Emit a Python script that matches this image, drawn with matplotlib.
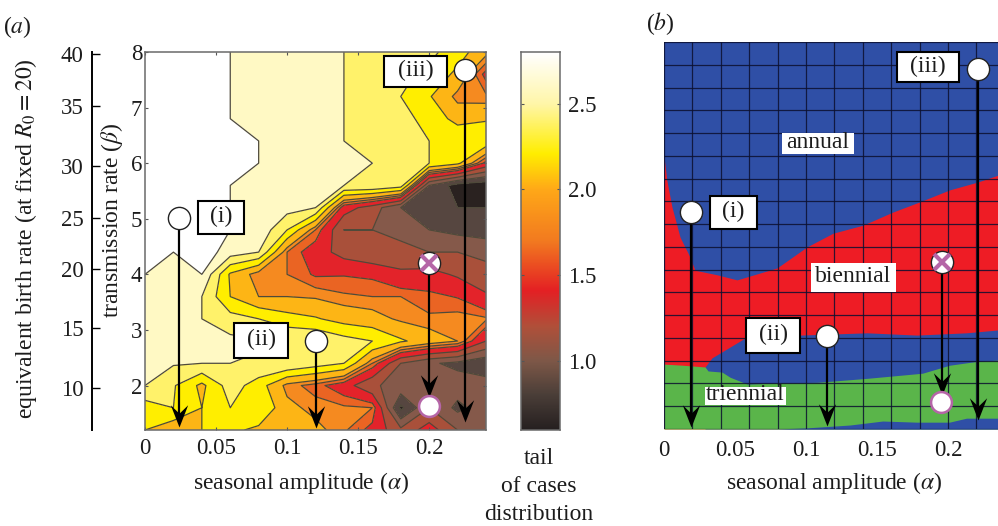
#!/usr/bin/env python3
import matplotlib

matplotlib.use("Agg")
import matplotlib.pyplot as plt
import numpy as np
from matplotlib.colors import LinearSegmentedColormap, ListedColormap
from matplotlib.patches import Rectangle
from matplotlib.path import Path

W, H = 998, 526

# panel a: tail of the cases distribution on the alpha / beta grid
ALPHA_GRID = [0, 0.02, 0.04, 0.06, 0.08, 0.10, 0.12, 0.14, 0.16, 0.18, 0.20, 0.22, 0.24]
BETA_GRID = [8.0, 7.6, 7.2, 6.8, 6.4, 6.0, 5.6, 5.2, 4.8, 4.4, 4.0, 3.6, 3.2, 2.8, 2.4, 2.0, 1.6, 1.2]
TAIL = [
    [2.7, 2.7, 2.7, 2.6, 2.5, 2.5, 2.5, 2.4, 2.3, 2.3, 2.25, 2.1, 1.85],
    [2.7, 2.7, 2.7, 2.6, 2.5, 2.5, 2.5, 2.4, 2.3, 2.25, 2.15, 1.95, 1.55],
    [2.7, 2.7, 2.7, 2.6, 2.5, 2.5, 2.5, 2.4, 2.3, 2.2, 2.02, 1.75, 1.72],
    [2.7, 2.7, 2.7, 2.6, 2.5, 2.5, 2.5, 2.4, 2.3, 2.25, 2.15, 1.92, 1.98],
    [2.7, 2.7, 2.7, 2.7, 2.6, 2.5, 2.5, 2.4, 2.35, 2.3, 2.2, 2.2, 2.15],
    [2.7, 2.7, 2.7, 2.7, 2.6, 2.5, 2.5, 2.45, 2.4, 2.3, 2.2, 2.05, 1.55],
    [2.7, 2.7, 2.7, 2.6, 2.5, 2.5, 2.5, 2.4, 2.4, 2.3, 1.0, 0.7, 0.65],
    [2.7, 2.7, 2.7, 2.6, 2.5, 2.48, 2.4, 1.5, 1.3, 1.0, 0.9, 0.8, 0.8],
    [2.7, 2.7, 2.7, 2.6, 2.55, 2.2, 1.7, 1.2, 1.2, 1.1, 1.0, 0.94, 0.92],
    [2.7, 2.6, 2.72, 2.5, 2.4, 1.7, 1.5, 1.32, 1.22, 1.3, 1.2, 1.2, 1.12],
    [2.6, 2.5, 2.6, 1.97, 1.72, 1.7, 1.58, 1.59, 1.57, 1.43, 1.47, 1.37, 1.31],
    [2.55, 2.5, 2.4, 2.0, 1.8, 1.8, 1.78, 1.72, 1.7, 1.7, 1.64, 1.59, 1.42],
    [2.55, 2.5, 2.4, 2.28, 2.2, 2.08, 2.02, 1.92, 1.87, 1.77, 1.72, 1.75, 1.72],
    [2.55, 2.5, 2.47, 2.45, 2.42, 2.4, 2.4, 2.28, 2.2, 2.03, 1.9, 1.8, 1.4],
    [2.45, 2.42, 2.4, 2.4, 2.38, 2.4, 2.3, 2.2, 1.7, 1.2, 1.03, 0.95, 0.85],
    [2.4, 2.22, 1.95, 2.3, 2.1, 1.75, 1.65, 1.5, 1.22, 1.15, 1.1, 1.1, 1.1],
    [2.1, 2.2, 2.0, 2.2, 2.2, 1.85, 1.75, 1.72, 1.7, 0.75, 1.2, 0.95, 1.1],
    [2.0, 1.85, 2.0, 2.05, 1.95, 1.9, 1.85, 1.72, 1.55, 1.25, 1.5, 1.2, 1.15],
]
LEVELS = [0.6, 0.8, 1.0, 1.2, 1.4, 1.6, 1.7, 1.8, 2.0, 2.2, 2.4, 2.6, 2.8]
BAND_COLORS = [
    "#2a2220", "#564640", "#85594a", "#a9503a", "#e3232a", "#ea6423",
    "#f58a20", "#fdb515", "#ffee00", "#fff26a", "#fff9c4", "#ffffff",
]
CBAR_VALUES = [0.6, 0.8, 1.0, 1.2, 1.41, 1.7, 2.0, 2.21, 2.5, 2.8]
CBAR_COLORS = [
    "#262020", "#4a3e38", "#7e5848", "#b0503a", "#e42024",
    "#f27a20", "#ffa818", "#ffee00", "#fff6a8", "#ffffff",
]

ALPHA_TICKS = [0, 0.05, 0.1, 0.15, 0.2]
ALPHA_LABELS = ["0", "0.05", "0.1", "0.15", "0.2"]
BETA_TICKS = [2, 3, 4, 5, 6, 7, 8]
BIRTH_LABELS = ["10", "15", "20", "25", "30", "35", "40"]
BIRTH_TICKS = [1.95, 3.03, 4.10, 5.02, 5.95, 7.03, 7.96]
CBAR_TICKS = [1.0, 1.5, 2.0, 2.5]

# panel b: regime boundaries
ANNUAL_X = [0, 0.002, 0.0056, 0.0113, 0.0183, 0.0218, 0.0373, 0.0514, 0.0796, 0.1007, 0.119, 0.14, 0.161, 0.18, 0.201, 0.221, 0.2352]
ANNUAL_Y = [5.98, 5.57, 5.10, 4.57, 4.22, 3.99, 3.91, 3.82, 4.03, 4.40, 4.64, 4.78, 5.01, 5.19, 5.40, 5.54, 5.66]
BIENNIAL_X = [0.0289, 0.0338, 0.0465, 0.0585, 0.0958, 0.143, 0.178, 0.213, 0.2352]
BIENNIAL_Y = [2.29, 2.45, 2.64, 2.82, 2.85, 2.89, 2.85, 2.89, 2.94]
UPPER_TRI_X = [0, 0.0134, 0.0289, 0.031, 0.0408, 0.0465, 0.0585, 0.0838, 0.108, 0.143, 0.182, 0.201, 0.221, 0.2352]
UPPER_TRI_Y = [2.34, 2.32, 2.29, 2.22, 2.20, 2.11, 1.99, 2.01, 2.02, 2.09, 2.18, 2.32, 2.39, 2.41]
LOWER_TRI_X = [0.0796, 0.1007, 0.131, 0.154, 0.178, 0.201, 0.213, 0.2352]
LOWER_TRI_Y = [1.20, 1.22, 1.27, 1.34, 1.32, 1.32, 1.39, 1.39]

# trajectories: (alpha, beta start, beta tip)
A_ARROWS = [(0.024, 5.02, 1.25), (0.12, 2.8, 1.23), (0.2254, 7.68, 1.35), (0.2, 4.21, 1.8)]
B_ARROWS = [(0.019, 5.01, 1.23), (0.1148, 2.83, 1.25), (0.221, 7.53, 1.36), (0.1958, 4.13, 1.8)]
A_TARGET = (0.2, 1.63)
B_TARGET = (0.195, 1.67)

plt.rcParams.update(
    {
        "font.family": ["Liberation Serif", "DejaVu Serif"],
        "mathtext.fontset": "stix",
        "font.size": 17,
        "xtick.labelsize": 16.5,
        "ytick.labelsize": 16.5,
    }
)

FRAME = "#6a6a6a"
BLUE = "#2f4fa6"
RED = "#ee1c25"
GREEN = "#5ab54a"
PINK = "#b565a7"
INK = "#1c1c1c"


def add_axes(fig, left, top, right, bottom):
    return fig.add_axes([left / W, 1 - bottom / H, (right - left) / W, (bottom - top) / H])


def fig_text(fig, x, y, s, **kwargs):
    kwargs.setdefault("ha", "center")
    kwargs.setdefault("va", "center")
    kwargs.setdefault("color", INK)
    fig.text(x / W, 1 - y / H, s, **kwargs)


def box_label(fig, left, top, right, bottom, s, edge="black"):
    fig.add_artist(
        Rectangle(
            (left / W, 1 - bottom / H), (right - left) / W, (bottom - top) / H,
            transform=fig.transFigure, facecolor="white", edgecolor=edge, linewidth=1.5, zorder=9,
        )
    )
    fig_text(fig, (left + right) / 2, (top + bottom) / 2 - 1, s, zorder=10)


def draw_arrows(ax, arrows, target):
    head = Path([(0, 0), (-0.39, 1), (0, 0.62), (0.39, 1), (0, 0)], closed=True)
    for alpha, start, tip in arrows:
        ax.plot([alpha, alpha], [start, tip + 0.15], color="black", lw=1.6, zorder=5)
        ax.plot(alpha, tip, marker=head, ms=32, color="black", mew=0, zorder=6, clip_on=False)
        ax.plot(alpha, start, "o", ms=16, mfc="white", mec="#222222", mew=1.0, zorder=7, clip_on=False)
    # crossed start point and its attractor
    ax.plot(arrows[3][0], arrows[3][1], "x", ms=11, mew=3, color=PINK, zorder=8)
    ax.plot(target[0], target[1], "o", ms=15, mfc="white", mec=PINK, mew=1.8, zorder=7)


def panel_a(fig):
    ax = add_axes(fig, 145, 52, 486, 430)
    x, y = np.meshgrid(ALPHA_GRID, BETA_GRID)
    z = np.array(TAIL)
    ax.contourf(x, y, z, levels=LEVELS, cmap=ListedColormap(BAND_COLORS), vmin=LEVELS[0], vmax=LEVELS[-1])
    ax.contour(x, y, z, levels=LEVELS[1:-1], colors="#4f4a3a", linewidths=0.9)
    ax.set_xlim(0, 0.24)
    ax.set_ylim(1.2, 8)
    ax.set_xticks(ALPHA_TICKS, ALPHA_LABELS)
    ax.set_yticks(BETA_TICKS)
    ax.tick_params(direction="in", top=True, right=True, length=2.5, width=0.8, color="#555555", labelcolor=INK)
    ax.tick_params(axis="x", pad=6)
    ax.tick_params(axis="y", pad=2)
    for spine in ax.spines.values():
        spine.set_color(FRAME)
        spine.set_linewidth(1.1)
    draw_arrows(ax, A_ARROWS, A_TARGET)

    # equivalent birth rate axis, shares the beta scale
    side = add_axes(fig, 92, 52, 93, 430)
    side.set_ylim(1.2, 8)
    side.set_xticks([])
    side.set_yticks(BIRTH_TICKS, BIRTH_LABELS)
    side.tick_params(axis="y", direction="in", length=6, width=1.0, pad=6, labelcolor=INK)
    for name in ["top", "right", "bottom"]:
        side.spines[name].set_visible(False)
    side.spines["left"].set_linewidth(1.4)
    side.patch.set_alpha(0)

    box_label(fig, 198, 201, 244, 234, "(i)")
    box_label(fig, 234, 323, 288, 358, "(ii)")
    box_label(fig, 384, 56, 447, 87, "(iii)")


def colorbar(fig):
    ax = add_axes(fig, 521, 52, 560, 430)
    cmap = LinearSegmentedColormap.from_list(
        "tail",
        [((v - CBAR_VALUES[0]) / (CBAR_VALUES[-1] - CBAR_VALUES[0]), c) for v, c in zip(CBAR_VALUES, CBAR_COLORS)],
    )
    grad = np.linspace(CBAR_VALUES[0], CBAR_VALUES[-1], 256).reshape(-1, 1)
    ax.imshow(grad, aspect="auto", origin="lower", cmap=cmap, extent=[0, 1, CBAR_VALUES[0], CBAR_VALUES[-1]])
    ax.set_xticks([])
    ax.set_yticks(CBAR_TICKS, [f"{v:.1f}" for v in CBAR_TICKS])
    ax.yaxis.tick_right()
    ax.tick_params(axis="y", direction="in", left=True, right=True, length=2.5, width=0.8, color="#555555", pad=6, labelcolor=INK)
    for spine in ax.spines.values():
        spine.set_color(FRAME)
        spine.set_linewidth(1.1)


def panel_b(fig):
    ax = add_axes(fig, 664, 42, 998, 429)
    ax.set_xlim(0, 0.2352)
    ax.set_ylim(1.2, 8)
    ax.set_facecolor(BLUE)
    ax.fill_between(ANNUAL_X, ANNUAL_Y, 1.2, color=RED, lw=0, zorder=1)
    ax.fill_between(BIENNIAL_X, BIENNIAL_Y, 1.2, color=BLUE, lw=0, zorder=1.1)
    ax.fill_between(UPPER_TRI_X, UPPER_TRI_Y, 1.2, color=GREEN, lw=0, zorder=1.2)
    ax.fill_between(LOWER_TRI_X, LOWER_TRI_Y, 1.2, color=BLUE, lw=0, zorder=1.3)
    for a in ALPHA_GRID:
        ax.axvline(a, color="#0c1030", lw=0.9, alpha=0.85, zorder=2)
    for b in BETA_GRID:
        ax.axhline(b, color="#0c1030", lw=0.9, alpha=0.85, zorder=2)
    ax.set_xticks(ALPHA_TICKS, ALPHA_LABELS)
    ax.set_yticks([])
    ax.tick_params(axis="x", length=0, pad=8, labelcolor=INK)
    for name in ax.spines:
        ax.spines[name].set_visible(False)
    draw_arrows(ax, B_ARROWS, B_TARGET)

    box_label(fig, 710, 196, 757, 229, "(i)")
    box_label(fig, 746, 318, 800, 353, "(ii)")
    box_label(fig, 897, 52, 959, 82, "(iii)")
    box_label(fig, 782, 133, 854, 154, "annual", edge="none")
    box_label(fig, 811, 263, 896, 292, "biennial", edge="none")
    box_label(fig, 705, 387, 786, 405, "triennial", edge="none")


def main():
    fig = plt.figure(figsize=(W / 100, H / 100), dpi=100, facecolor="white")
    panel_a(fig)
    colorbar(fig)
    panel_b(fig)

    fig_text(fig, 17, 27, r"($\mathit{a}$)")
    fig_text(fig, 660, 24, r"($\mathit{b}$)")
    fig_text(fig, 26, 239, r"equivalent birth rate (at fixed $R_0 = 20$)", rotation=90)
    fig_text(fig, 112, 220, r"transmission rate ($\beta$)", rotation=90)
    fig_text(fig, 301, 483, r"seasonal amplitude ($\alpha$)")
    fig_text(fig, 834, 483, r"seasonal amplitude ($\alpha$)")
    fig_text(fig, 539, 458, "tail")
    fig_text(fig, 539, 486, "of cases")
    fig_text(fig, 539, 514, "distribution")

    fig.savefig("out.png", dpi=100, facecolor="white")
    plt.close(fig)


if __name__ == "__main__":
    main()
